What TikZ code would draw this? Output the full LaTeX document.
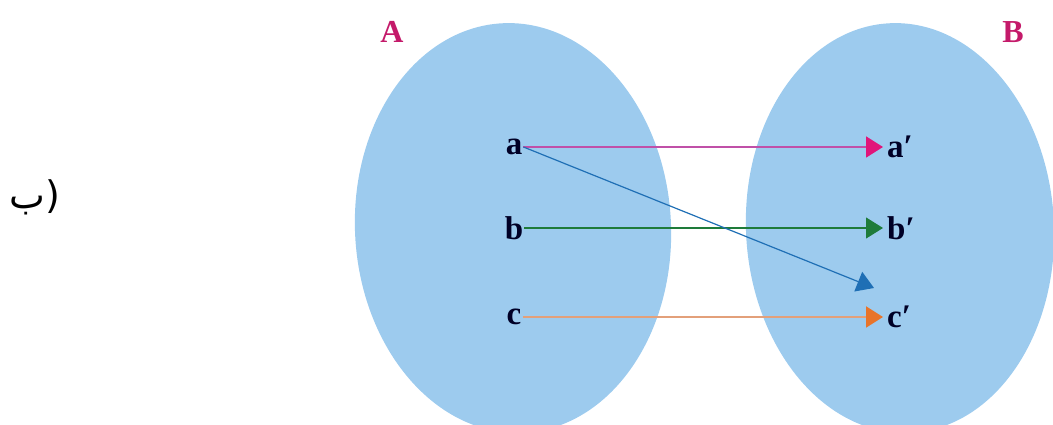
\documentclass[tikz,border=0pt]{standalone}
\usepackage{fontspec}
\setmainfont{Liberation Serif}
\newfontfamily\arabicfont[Script=Arabic]{DejaVu Sans}
\TeXXeTstate=1
\usetikzlibrary{arrows.meta}
\definecolor{setblue}{HTML}{9DCBEE}
\definecolor{setlabel}{HTML}{C41A6A}
\definecolor{pinkline}{HTML}{C050A8}
\definecolor{pinkhead}{HTML}{E0157A}
\definecolor{greenline}{HTML}{1E7B3A}
\definecolor{blueline}{HTML}{1F6FB5}
\definecolor{orangeline}{HTML}{E3A07A}
\definecolor{orangehead}{HTML}{E8742A}
\tikzset{
  setshape/.style={fill=setblue, draw=none},
  elem/.style={font=\fontsize{33}{33}\selectfont\bfseries, inner sep=1pt, text=black!85!blue},
  setname/.style={font=\fontsize{32}{32}\selectfont\bfseries, text=setlabel, inner sep=0pt},
  headtip/.style={-{Triangle[length=17pt,width=21pt,color=#1]}},
}
\begin{document}
\begin{tikzpicture}[x=1pt,y=1pt]
\useasboundingbox (0,0) rectangle (1053,425);
\begin{scope}
\clip (0,0) rectangle (1053,425);
\fill[setshape, rotate around={3:(513,197)}] (513,197) ellipse [x radius=158, y radius=205];
\fill[setshape, rotate around={3:(900,197)}] (900,197) ellipse [x radius=154, y radius=205];
\end{scope}
\node[setname] (A) at (392,393) {A};
\node[setname] (B) at (1013,393) {B};
\node[elem] (a) at (514,278) {a};
\node[elem] (b) at (514,197) {b};
\node[elem] (c) at (514,108) {c};
\node[elem, anchor=west] (a2) at (886,278) {a′};
\node[elem, anchor=west] (b2) at (886,197) {b′};
\node[elem, anchor=west] (c2) at (886,108) {c′};
\coordinate (ct) at (874,137);
\draw[draw=pinkline, line width=1.8pt, headtip=pinkhead, shorten >=3pt] (a.east) -- (a2.west);
\draw[draw=greenline, line width=1.2pt, headtip=greenline, shorten >=3pt] (b.east) -- (b2.west);
\draw[draw=orangeline, line width=2pt, headtip=orangehead, shorten >=3pt] (c.east) -- (c2.west);
\draw[draw=blueline, line width=1.2pt, headtip=blueline] (a.east) -- (ct);
\node[font=\arabicfont\fontsize{38}{38}\selectfont, inner sep=0pt] (lbl) at (35,228) {\beginR(ب\endR};
\end{tikzpicture}
\end{document}
